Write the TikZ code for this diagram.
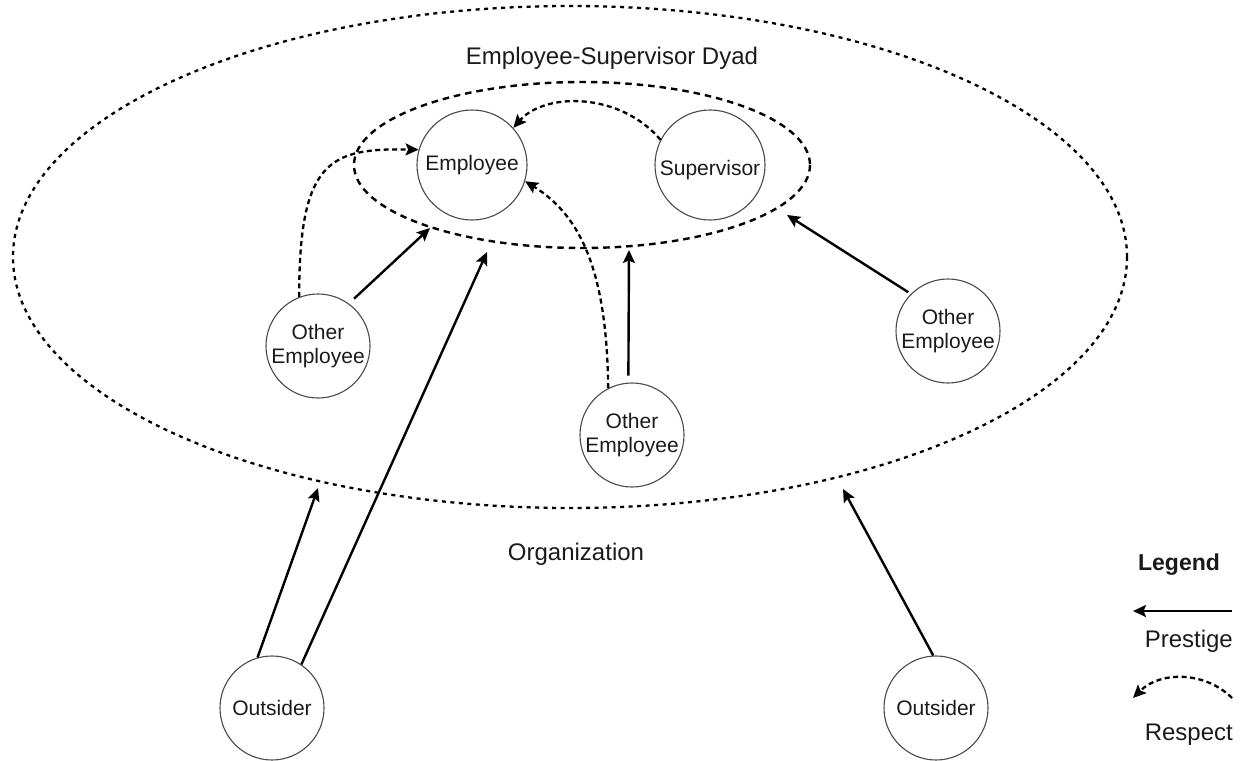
\documentclass[tikz,border=0pt]{standalone}
\usepackage{fontspec}
\setmainfont{Liberation Sans}
\usetikzlibrary{arrows.meta}
\definecolor{ink}{HTML}{1A1A1A}
\definecolor{rim}{HTML}{4A4A4A}
\begin{document}
\begin{tikzpicture}[x=1pt,y=-1pt,
  person/.style={circle, draw=rim, line width=1.1pt, minimum size=104pt,
    inner sep=0pt, align=center, text=ink, font=\fontsize{21}{24}\selectfont},
  core/.style={person, minimum size=110pt},
  label/.style={text=ink, font=\fontsize{24}{28}\selectfont, inner sep=0pt},
  tipshape/.style={-{Stealth[length=13pt,width=12pt,inset=2.5pt]}},
  prestige/.style={tipshape, line width=2.4pt, draw=black},
  respect/.style={tipshape, line width=2.3pt, draw=black, dash pattern=on 5pt off 3.5pt},
  orgline/.style={line width=2.3pt, dash pattern=on 4pt off 4.5pt},
  dyadline/.style={line width=2.4pt, dash pattern=on 6.5pt off 5pt}
]
\path[use as bounding box] (0,0) rectangle (1244,760);

% boundaries: organization and dyad
\draw[orgline] (570,257) ellipse [x radius=557, y radius=251];
\draw[dyadline] (582,165) ellipse [x radius=228, y radius=83];

% titles
\node[label, anchor=base] (dyadtitle) at (612,64) {Employee-Supervisor Dyad};
\node[label, anchor=base] (orgtitle) at (576,560) {Organization};

% people
\node[core] (emp) at (472,165) {Employee};
\node[core] (sup) at (710,165) {\raisebox{-5pt}[\height][\depth]{Supervisor}};
\node[person] (oeL) at (318,346) {Other\\Employee};
\node[person] (oeC) at (632,435) {Other\\Employee};
\node[person] (oeR) at (948,331) {Other\\Employee};
\node[person] (outL) at (272,708) {Outsider};
\node[person] (outR) at (936,708) {Outsider};

% free ends of prestige arrows, at the boundaries
\coordinate (dyadL) at (430,228);
\coordinate (dyadC) at (629,250);
\coordinate (dyadR) at (787,215);
\coordinate (dyadO) at (487,252);
\coordinate (orgL) at (318,488);
\coordinate (orgR) at (843,489);

% respect
\draw[respect] (sup.153) .. controls (620,92) and (545,92) .. (emp.42);
\draw[respect] (oeL.111) .. controls (299,160) and (330,148) .. (emp.164);
\draw[respect] (oeC.117) .. controls (607,270) and (580,215) .. (emp.-17);

% prestige
\draw[prestige, shorten <=7pt] (oeL.54) -- (dyadL);
\draw[prestige, shorten <=7pt] (oeC.94) -- (dyadC);
\draw[prestige, shorten <=3pt] (oeR.135) -- (dyadR);
\draw[prestige] (outL.56) -- (dyadO);
\draw[prestige] (outL.106) -- (orgL);
\draw[prestige] (outR.93) -- (orgR);

% legend
\node[label, anchor=base, font=\bfseries\fontsize{23}{28}\selectfont] (legend) at (1179,570) {Legend};
\coordinate (pA) at (1232,611);
\coordinate (pB) at (1133,611);
\draw[prestige] (pA) -- (pB);
\node[label, anchor=base east] (prestigetext) at (1233,647) {Prestige};
\coordinate (rA) at (1232,698);
\coordinate (rB) at (1133,698);
\draw[respect] (rA) .. controls (1205,671) and (1160,671) .. (rB);
\node[label, anchor=base east] (respecttext) at (1233,740) {Respect};
\end{tikzpicture}
\end{document}
